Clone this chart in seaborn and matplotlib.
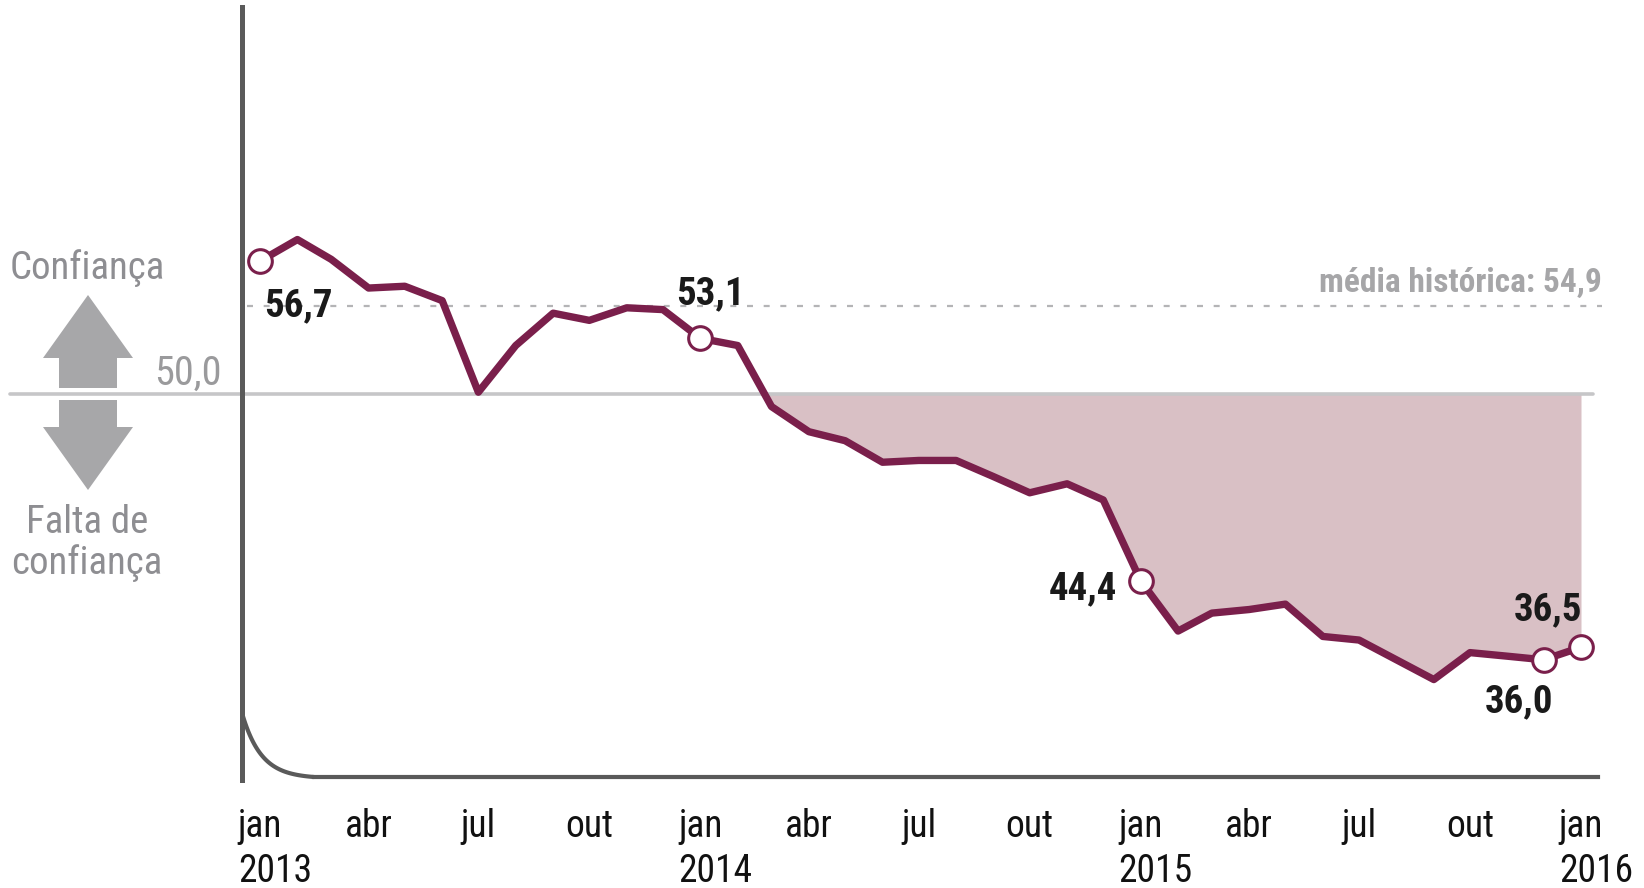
import numpy as np
import pandas as pd
import matplotlib
matplotlib.use('Agg')
import matplotlib.pyplot as plt
import matplotlib.dates as mdates
import seaborn as sns

# dados -----------------------------------------------------------------------
months = pd.date_range('2013-01-01', '2016-01-01', freq='MS')
values = [57.4, 58.6, 57.5, 55.9, 56.0, 55.2, 50.1, 52.7, 54.5, 54.1, 54.8, 54.7,
          53.1, 52.7, 49.3, 47.9, 47.4, 46.2, 46.3, 46.3, 45.4, 44.5, 45.0, 44.1,
          39.6, 36.8, 37.8, 38.0, 38.3, 36.5, 36.3, 35.2, 34.1, 35.6, 35.4, 35.2,
          35.9]
marked_dates = pd.to_datetime(['2013-01-01', '2014-01-01', '2015-01-01', '2015-12-01', '2016-01-01'])
marked_labels = ['56,7', '53,1', '44,4', '36,0', '36,5']
neutral = 50.0
hist_avg = 54.9
tick_dates = pd.date_range('2013-01-01', '2016-01-01', freq='QS')
month_names = ['jan', 'abr', 'jul', 'out']
# -----------------------------------------------------------------------------

df = pd.DataFrame({'mes': months, 'icei': values})
marks = df[df['mes'].isin(marked_dates)]

W, H = 1644, 888
C_LINE = '#7a1f4b'
C_FILL = '#d9c0c5'
C_AXIS = '#5a5a5a'
C_GRAY = '#8e8e92'

sns.set_theme(style='white')
plt.rcParams['font.family'] = ['Roboto Condensed', 'Liberation Sans', 'DejaVu Sans']

fig = plt.figure(figsize=(W / 100, H / 100), dpi=100)
ax = fig.add_axes([0, 0, 1, 1])

# escala: jan/2013 em x=260px, jan/2016 em x=1581px ; 50 em y=394px, 54,9 em y=306px
d0 = mdates.date2num(pd.Timestamp('2013-01-01'))
ppd = (1581 - 260) / 1095
ppu = (394 - 306) / (hist_avg - neutral)
px_x = lambda px: d0 + (px - 260) / ppd
px_y = lambda py: neutral + (394 - py) / ppu
ax.set_xlim(px_x(0), px_x(W))
ax.set_ylim(px_y(H), px_y(0))

# área abaixo de 50
x_num = mdates.date2num(df['mes'])
y_arr = np.array(values)
ax.fill_between(x_num, y_arr, neutral, where=y_arr < neutral, interpolate=True,
                color=C_FILL, lw=0, zorder=1)

# linhas de referência
ax.axhline(neutral, xmin=10 / W, xmax=1593 / W, color='#c6c6c8', lw=2.6, zorder=2)
ax.axhline(hist_avg, xmin=247 / W, xmax=1602 / W, color='#b4b4b6', lw=1.6,
           dashes=(2.7, 4.8), zorder=2)

# série
sns.lineplot(data=df, x='mes', y='icei', ax=ax, color=C_LINE, linewidth=5.3,
             legend=False, zorder=4)
sns.scatterplot(data=marks, x='mes', y='icei', ax=ax, s=290, color='white',
                edgecolor=C_LINE, linewidth=2.2, zorder=5, legend=False)

# rótulos dos pontos
offsets = [(38, -45, 'center'), (10, 45, 'center'), (-24, -8, 'right'),
           (-25, -42, 'center'), (-33, 37, 'center')]
for (_, r), lab, (dx, dy, ha) in zip(marks.iterrows(), marked_labels, offsets):
    ax.annotate(lab, xy=(r['mes'], r['icei']), xytext=(dx, dy), textcoords='offset pixels',
                ha=ha, va='center', fontsize=28, fontweight='bold', color='#1a1a1a', zorder=6)

ax.annotate('média histórica: 54,9', xy=(months[-1], hist_avg), xytext=(21, 14),
            textcoords='offset pixels', ha='right', va='baseline',
            fontsize=24, fontweight='bold', color='#a6a6a8')
ax.annotate('50,0', xy=(px_x(242), neutral), xytext=(-20, 9), textcoords='offset pixels',
            ha='right', va='baseline', fontsize=29, color='#9a9a9c')

# eixos
for s in ['top', 'right']:
    ax.spines[s].set_visible(False)
ax.spines['left'].set_position(('data', px_x(242)))
ax.spines['left'].set_bounds(px_y(780), px_y(7))
ax.spines['left'].set_linewidth(3.6)
ax.spines['left'].set_color(C_AXIS)
ax.spines['bottom'].set_position(('data', px_y(777)))
ax.spines['bottom'].set_bounds(px_x(314), px_x(1598))
ax.spines['bottom'].set_linewidth(3)
ax.spines['bottom'].set_color(C_AXIS)
ax.set_yticks([])
ax.set_xlabel('')
ax.set_ylabel('')

ax.set_xticks(tick_dates)
ax.set_xticklabels([month_names[d.month // 3] for d in tick_dates])
ax.tick_params(axis='x', direction='out', length=9.5, width=3.5, color=C_AXIS,
               pad=13, labelsize=27, labelcolor='#111111')
ax.xaxis.get_major_ticks()[0].tick1line.set_visible(False)
for d in tick_dates[tick_dates.month == 1]:
    ax.annotate(str(d.year), xy=(d, px_y(777)), xytext=(-22, -105), textcoords='offset pixels',
                ha='left', va='baseline', fontsize=27, color='#111111', annotation_clip=False)

# curva do canto
t = np.linspace(0, 72, 80)
f = (np.exp(-t / 19) - np.exp(-72 / 19)) / (1 - np.exp(-72 / 19))
ax.plot(px_x(242 + t), px_y(777 - 64 * f), color=C_AXIS, lw=3, clip_on=False, zorder=3)

# setas e textos à esquerda
tf = lambda pts: [(px / W, 1 - py / H) for px, py in pts]
up = [(88, 295), (133, 358), (117, 358), (117, 388), (59, 388), (59, 358), (43, 358)]
down = [(59, 400), (117, 400), (117, 427), (133, 427), (88, 490), (43, 427), (59, 427)]
for poly in (up, down):
    ax.add_patch(plt.Polygon(tf(poly), closed=True, transform=ax.transAxes,
                             color='#a7a7a9', lw=0))
ax.text(87 / W, 1 - 268 / H, 'Confiança', transform=ax.transAxes, ha='center', va='center',
        fontsize=28, color=C_GRAY)
ax.text(87 / W, 1 - 543 / H, 'Falta de\nconfiança', transform=ax.transAxes, ha='center',
        va='center', fontsize=28, color=C_GRAY, linespacing=1.1)

fig.savefig('out.png', dpi=100)
